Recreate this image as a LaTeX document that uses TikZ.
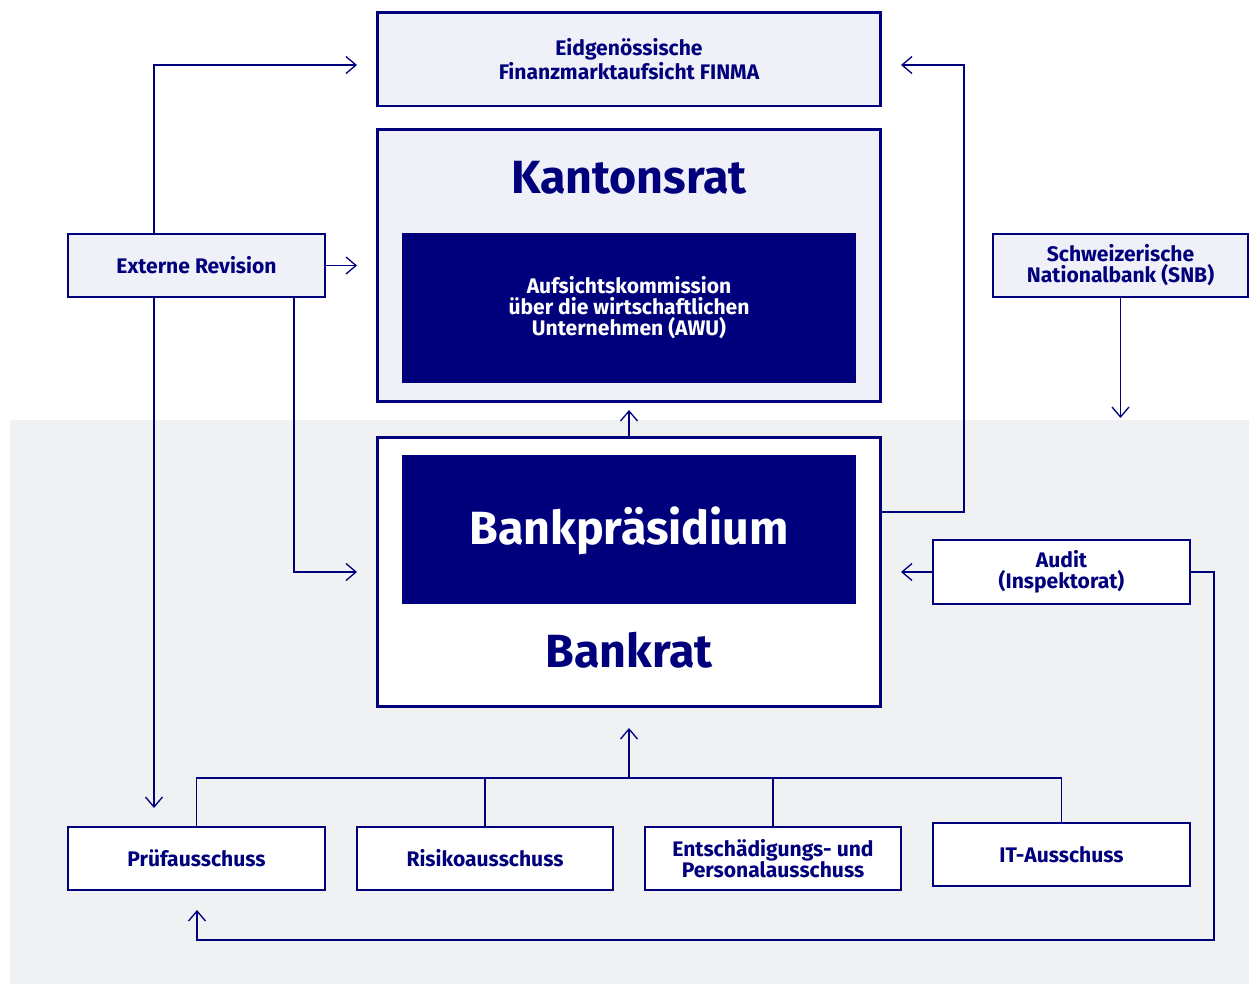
\documentclass[tikz,border=0pt]{standalone}
\usepackage{fontspec}
\setmainfont{Fira Sans}
\usepackage{xcolor}
\usetikzlibrary{arrows.meta}
\definecolor{navy}{HTML}{00007D}
\definecolor{lightbox}{HTML}{F0F0F8}
\definecolor{lightarea}{HTML}{F0F1F3}

\begin{document}
\begin{tikzpicture}
    [x=0.02cm, y=-0.02cm,
     >={Straight Barb[length=0.2cm,width=0.34cm]},  % open arrow heads
     box/.style={rectangle, draw=navy, line width=0.85pt, inner sep=0pt, outer sep=0pt, text=navy, align=center, font=\fontsize{12}{12}\selectfont\bfseries},
     bigbox/.style={rectangle, draw=navy, line width=1.7pt, inner sep=0pt, outer sep=0pt},
     darkbox/.style={rectangle, fill=navy, inner sep=0pt, outer sep=0pt, text=white, align=center},
     title/.style={text=navy, font=\fontsize{26.5}{30}\selectfont\bfseries},
     link/.style={draw=navy, line width=0.75pt, ->},
     line/.style={draw=navy, line width=0.75pt},
    ]

\useasboundingbox (0,0) rectangle (1254,984);
\fill[lightarea] (10,420) rectangle (1249,984);

\node[bigbox, fill=lightbox, minimum width=10.08cm, minimum height=1.88cm, text=navy, align=center, font=\fontsize{12}{12}\selectfont\bfseries] (node_finma) at (629,59) {Eidgenössische\\Finanzmarktaufsicht FINMA};
\node[bigbox, fill=lightbox, minimum width=10.08cm, minimum height=5.46cm] (node_kantonsrat) at (629,265.5) {};
\node[title] (node_kantonsrat_title) at (629,178) {Kantonsrat};
\node[darkbox, minimum width=9.08cm, minimum height=3cm, font=\fontsize{12}{12}\selectfont\bfseries] (node_awu) at (629,308) {Aufsichtskommission\\über die wirtschaftlichen\\Unternehmen (AWU)};
\node[bigbox, fill=white, minimum width=10.08cm, minimum height=5.4cm] (node_bankrat) at (629,572) {};
\node[darkbox, minimum width=9.08cm, minimum height=2.98cm] (node_praesidium) at (629,529.5) {};
\node[title, text=white] (node_praesidium_title) at (629,531) {Bankpräsidium};
\node[title] (node_bankrat_title) at (629,650) {Bankrat};

\node[box, fill=lightbox, minimum width=5.14cm, minimum height=1.26cm] (node_revision) at (196.5,265.5) {Externe Revision};
\node[box, fill=lightbox, minimum width=5.1cm, minimum height=1.26cm] (node_snb) at (1120.5,265.5) {Schweizerische\\Nationalbank (SNB)};
\node[box, fill=white, minimum width=5.14cm, minimum height=1.28cm] (node_audit) at (1061.5,572) {Audit\\(Inspektorat)};

\node[box, fill=white, minimum width=5.14cm, minimum height=1.26cm] (node_pruef) at (196.5,858.5) {Prüfausschuss};
\node[box, fill=white, minimum width=5.12cm, minimum height=1.26cm] (node_risiko) at (485,858.5) {Risikoausschuss};
\node[box, fill=white, minimum width=5.12cm, minimum height=1.26cm] (node_entsch) at (773,858.5) {Entschädigungs- und\\Personalausschuss};
\node[box, fill=white, minimum width=5.14cm, minimum height=1.26cm] (node_it) at (1061.5,854.5) {IT-Ausschuss};

\coordinate (tip_finma_l) at (357,65);
\coordinate (tip_finma_r) at (901,65);
\coordinate (tip_kr_l) at (357,265.5);
\coordinate (tip_br_l) at (357,572);
\coordinate (tip_br_r) at (901,572);
\coordinate (tip_pruef_top) at (154,808);
\coordinate (tip_pruef_bot) at (197,910);
\coordinate (tip_snb) at (1120.5,418);
\coordinate (tip_kr_bot) at (629,410);
\coordinate (tip_br_bot) at (629,728);
\coordinate (bend_rev) at (294,572);
\coordinate (bend_finma) at (964,512);
\coordinate (bend_audit) at (1214,940);
\coordinate (tree_mid) at (629,778);

\draw[link] (node_revision.north -| tip_pruef_top) |- (tip_finma_l);
\draw[link] (node_revision.east) -- (tip_kr_l);
\draw[link] (node_revision.south -| bend_rev) |- (tip_br_l);
\draw[link] (node_revision.south -| tip_pruef_top) -- (tip_pruef_top);
\draw[link] (node_bankrat.east |- bend_finma) -- (bend_finma) |- (tip_finma_r);
\draw[link] (node_snb.south) -- (tip_snb);
\draw[link] (node_bankrat.north) -- (tip_kr_bot);
\draw[link] (node_audit.west) -- (tip_br_r);
\draw[link] (node_audit.east) -| (bend_audit) -| (tip_pruef_bot);

\draw[line] (node_pruef.north) |- (node_it.north |- tree_mid) -- (node_it.north);
\draw[line] (node_risiko.north) -- (node_risiko.north |- tree_mid);
\draw[line] (node_entsch.north) -- (node_entsch.north |- tree_mid);
\draw[link] (tree_mid) -- (tip_br_bot);

\end{tikzpicture}
\end{document}
